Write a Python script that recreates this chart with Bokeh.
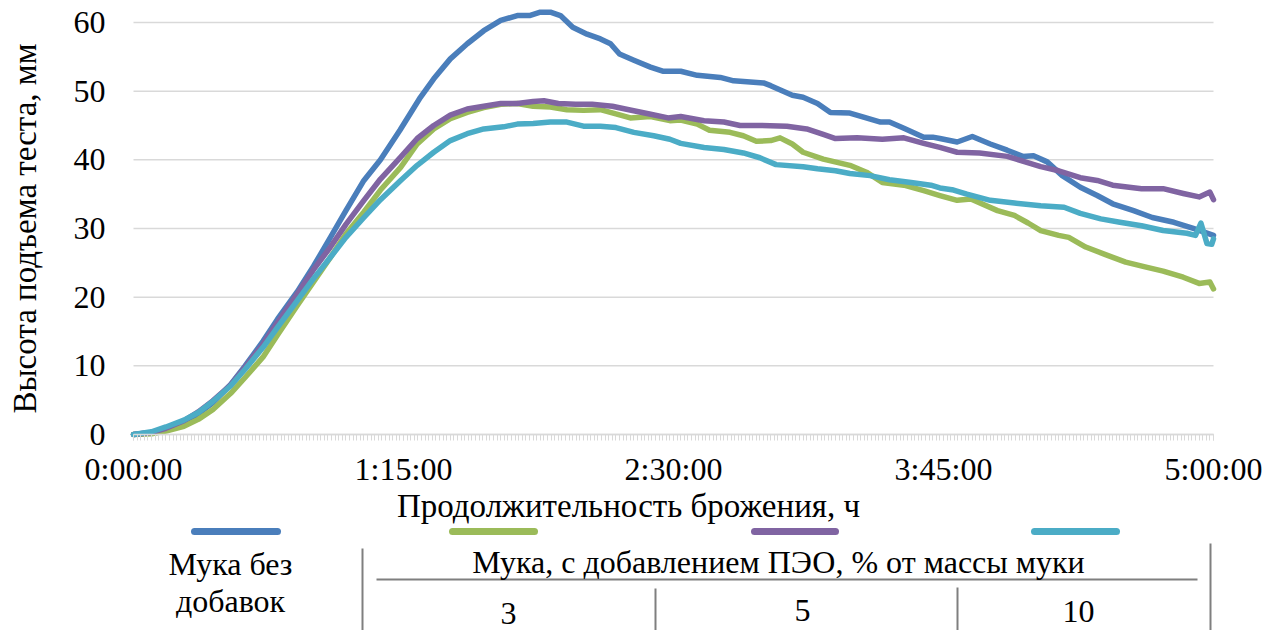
import math
from bokeh.plotting import figure
from bokeh.models import Range1d, SingleIntervalTicker
from bokeh.core.properties import value
from bokeh.embed import file_html
from bokeh.resources import INLINE

# ---- data (time in minutes, rise height in mm) ----
t_base = [0, 5, 9, 14, 18, 22, 27, 31, 36, 40, 45.5, 50, 54.7, 59, 64, 68.6, 74, 79.7, 83.4, 88, 92.7,
          97.3, 102, 106.6, 110, 113, 115.8, 118.6, 122, 126, 129.7, 132.5, 135, 139, 143.6, 147, 152,
          156.6, 163, 166.7, 175, 177, 183, 186, 190, 193.6, 199, 202.8, 207.5, 210, 214, 219.5, 222,
          224, 228.8, 233, 238, 242.7, 247, 250, 253.8, 258, 263, 267.7, 272, 277.8, 283, 289, 294.4, 300]
v_base = [0, 0.3, 0.8, 1.8, 3.0, 4.6, 7.3, 10.0, 13.6, 16.8, 20.8, 24.5, 28.7, 32.6, 37.0, 40.0, 44.3,
          49.1, 51.8, 54.7, 56.9, 58.8, 60.3, 61.0, 61.0, 61.5, 61.5, 61.0, 59.3, 58.3, 57.6, 56.9, 55.4,
          54.5, 53.5, 52.9, 52.9, 52.3, 52.0, 51.5, 51.2, 50.8, 49.4, 49.1, 48.2, 46.9, 46.8, 46.2, 45.5,
          45.5, 44.6, 43.3, 43.3, 43.1, 42.6, 43.4, 42.3, 41.4, 40.5, 40.6, 39.7, 37.7, 36.0, 34.8, 33.6,
          32.6, 31.6, 30.9, 30.0, 29.0]

t_peo3 = [0, 5, 9, 14, 18, 22, 27, 31, 36, 40, 45.5, 50, 54.7, 59, 64, 68.6, 74.2, 78.8, 83.4, 88, 92.7,
          97.3, 102, 106.6, 111, 115.8, 120.4, 125, 129.7, 134, 138, 143.6, 149, 152, 156.6, 160, 165.7,
          169.4, 173, 177, 179.6, 183, 186, 191.6, 199, 203.6, 208, 214, 219.5, 224, 228.8, 232.6, 240,
          244.7, 248.5, 252, 257, 259.8, 264.5, 270, 275.6, 281, 286, 291.6, 296, 299, 300]
v_peo3 = [0, 0.1, 0.5, 1.2, 2.2, 3.6, 6.0, 8.3, 11.3, 14.5, 18.8, 22.2, 25.8, 29.2, 32.4, 35.6, 38.9,
          42.3, 44.5, 46.0, 46.9, 47.6, 48.1, 48.2, 47.8, 47.7, 47.3, 47.2, 47.3, 46.7, 46.1, 46.3, 45.7,
          45.8, 45.2, 44.3, 44.0, 43.5, 42.7, 42.8, 43.2, 42.3, 41.1, 40.1, 39.2, 38.2, 36.7, 36.3, 35.5,
          34.8, 34.1, 34.3, 32.6, 31.9, 30.8, 29.7, 29.0, 28.7, 27.3, 26.2, 25.1, 24.4, 23.8, 22.9, 22.0,
          22.2, 21.2]

t_peo5 = [0, 5, 9, 14, 18, 22, 27, 31, 36, 40, 45.5, 50, 54.7, 59, 64, 68.6, 74.2, 78.8, 83.4, 88, 92.7,
          97.3, 102, 106.6, 111, 114, 118, 122.8, 127.4, 133, 137.6, 143, 148.5, 152, 158.5, 164, 168.5,
          174, 181.5, 187, 191.6, 195, 201, 208, 214, 219.5, 224, 228.8, 235, 242.7, 247, 252, 257, 263,
          267.7, 272, 280, 286, 291.6, 296, 299, 300]
v_peo5 = [0, 0.3, 0.9, 2.0, 3.3, 4.9, 7.2, 9.8, 13.2, 16.3, 20.5, 24.0, 27.3, 30.6, 34.1, 37.2, 40.4,
          43.1, 45.0, 46.5, 47.4, 47.8, 48.2, 48.2, 48.5, 48.6, 48.2, 48.1, 48.1, 47.8, 47.3, 46.7, 46.1,
          46.3, 45.7, 45.5, 45.0, 45.0, 44.9, 44.5, 43.7, 43.1, 43.2, 43.0, 43.2, 42.4, 41.8, 41.1, 41.0,
          40.5, 39.8, 39.0, 38.4, 37.4, 37.0, 36.3, 35.8, 35.8, 35.1, 34.6, 35.3, 34.2]

t_peo10 = [0, 5, 9, 14, 18, 22, 27, 31, 36, 40, 45.5, 50, 54.7, 59, 64, 68.6, 74.2, 78.8, 83.4, 88, 92.7,
           97.3, 102.8, 106.6, 111, 115.8, 120.4, 125, 129.7, 134, 139, 144.5, 149, 152, 158.5, 164,
           169.4, 174, 178.5, 186, 190, 195, 199, 204.6, 210, 216, 221.5, 224, 227.8, 231.5, 238, 244.7,
           252, 258.5, 263, 268.7, 274, 280, 286, 292.6, 295, 296.5, 298.2, 299.5, 300]
v_peo10 = [0, 0.4, 1.1, 2.1, 3.2, 4.8, 7.1, 9.5, 12.7, 15.6, 19.5, 22.7, 25.8, 28.7, 31.6, 34.2, 37.0,
           39.2, 41.1, 42.8, 43.8, 44.5, 44.8, 45.2, 45.3, 45.5, 45.5, 44.9, 44.9, 44.7, 44.0, 43.5, 43.0,
           42.4, 41.8, 41.5, 41.0, 40.3, 39.3, 39.0, 38.7, 38.4, 38.0, 37.7, 37.1, 36.7, 36.3, 35.9, 35.6,
           35.0, 34.1, 33.7, 33.3, 33.1, 32.2, 31.4, 30.9, 30.4, 29.7, 29.3, 29.0, 30.8, 27.8, 27.7, 28.5]

series_t = [t_base, t_peo3, t_peo5, t_peo10]
series_v = [v_base, v_peo3, v_peo5, v_peo10]
colors = ["#4A7EBB", "#9BBB59", "#8064A2", "#4BACC6"]

x_ticks = [0, 75, 150, 225, 300]
x_tick_labels = ["0:00:00", "1:15:00", "2:30:00", "3:45:00", "5:00:00"]
y_ticks = [0, 10, 20, 30, 40, 50, 60]

y_title = "Высота подъема теста, мм"
x_title = "Продолжительность брожения, ч"
legend_first = ["Мука без", "добавок"]
legend_header = "Мука, с добавлением ПЭО, % от массы муки"
legend_doses = ["3", "5", "10"]

FONT = "Liberation Serif"
GRID = "#D9D9D9"
W, H = 1281, 630
PX_LEFT, PX_RIGHT, PX_ZERO, PX_TOP = 133, 1213, 434, 0     # plot-area placement on the page
X_MIN, X_MAX, Y_MIN, Y_MAX = 0, 300, 0, 63.2              # plot-area data extent
sx = (PX_RIGHT - PX_LEFT) / (X_MAX - X_MIN)
sy = (PX_ZERO - PX_TOP) / (Y_MAX - Y_MIN)

# one frame covering the whole page; axes are pinned at the data origin
p = figure(width=W, height=H, output_backend="svg", toolbar_location=None,
           x_range=Range1d(X_MIN - PX_LEFT / sx, X_MAX + (W - PX_RIGHT) / sx),
           y_range=Range1d(Y_MIN - (H - PX_ZERO) / sy, Y_MAX),
           min_border=0, min_border_left=0, min_border_right=0, min_border_top=0, min_border_bottom=0)
p.extra_x_ranges = {"px": Range1d(0, W)}
p.extra_y_ranges = {"px": Range1d(H, 0)}
p.outline_line_color = None
p.background_fill_color = "white"
p.border_fill_color = "white"
p.grid.visible = False

# horizontal gridlines inside the plot area
p.segment(x0=[X_MIN] * len(y_ticks), x1=[X_MAX] * len(y_ticks), y0=y_ticks, y1=y_ticks,
          line_color=GRID, line_width=1.5)

for t, v, c in zip(series_t, series_v, colors):
    p.line(t, v, line_color=c, line_width=5.5, line_join="round", line_cap="round")

xa = p.xaxis[0]
xa.fixed_location = 0
xa.bounds = (X_MIN, X_MAX)
xa.ticker = SingleIntervalTicker(interval=75, num_minor_ticks=75)
xa.major_label_overrides = {k: s for k, s in zip(x_ticks, x_tick_labels)}
xa.axis_line_color = GRID
xa.axis_line_width = 1.5
xa.major_tick_line_color = GRID
xa.minor_tick_line_color = GRID
xa.major_tick_out = 6
xa.major_tick_in = 0
xa.minor_tick_out = 6
xa.minor_tick_in = 0
xa.major_label_standoff = 10
xa.major_label_text_font = FONT
xa.major_label_text_font_size = "32px"
xa.major_label_text_color = "black"

ya = p.yaxis[0]
ya.fixed_location = 0
ya.bounds = (0, 60)
ya.ticker = y_ticks
ya.axis_line_color = None
ya.major_tick_line_color = None
ya.minor_tick_line_color = None
ya.major_tick_out = 0
ya.major_tick_in = 0
ya.major_label_standoff = 28
ya.major_label_text_font = FONT
ya.major_label_text_font_size = "32px"
ya.major_label_text_color = "black"

TXT = dict(text_font=value(FONT), text_color="black", x_range_name="px", y_range_name="px")

# axis titles
p.text(x=[24], y=[228], text=[y_title], angle=math.pi / 2, text_font_size=value("33px"),
       text_align="center", text_baseline="middle", **TXT)
p.text(x=[628], y=[505], text=[x_title], text_font_size=value("33px"),
       text_align="center", text_baseline="alphabetic", **TXT)

# legend keys
key_x0 = [194, 452, 754, 1034]
key_x1 = [277, 534, 835, 1116]
p.segment(x0=key_x0, y0=[531] * 4, x1=key_x1, y1=[531] * 4, line_color=colors, line_width=7,
          line_cap="round", x_range_name="px", y_range_name="px")

# table lines
LC = "#7F7F7F"
p.segment(x0=[362, 1210, 655, 957, 376], y0=[548, 543, 588, 587, 579],
          x1=[362, 1210, 655, 957, 1197], y1=[630, 630, 630, 630, 579],
          line_color=LC, line_width=2, x_range_name="px", y_range_name="px")

# table texts
p.text(x=[230, 230], y=[563, 600], text=legend_first, text_font_size=value("32px"),
       text_align="center", text_baseline="alphabetic", **TXT)
p.text(x=[778], y=[561], text=[legend_header], text_font_size=value("32px"),
       text_align="center", text_baseline="alphabetic", **TXT)
p.text(x=[508, 802, 1078], y=[613, 610, 611], text=legend_doses, text_font_size=value("32px"),
       text_align="center", text_baseline="alphabetic", **TXT)

open("out.html", "w").write(file_html(p, INLINE))
